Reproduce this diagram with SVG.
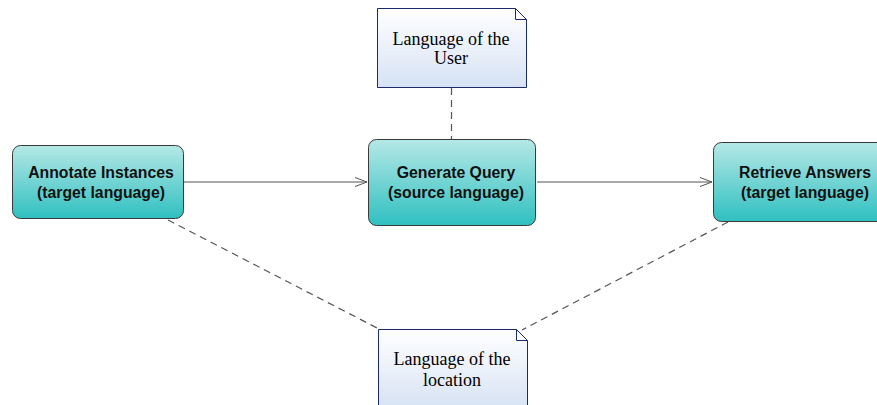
<svg xmlns="http://www.w3.org/2000/svg" width="877" height="405" viewBox="0 0 877 405">
<defs>
<linearGradient id="gTeal" x1="0" y1="0" x2="0" y2="1">
<stop offset="0" stop-color="#b5e8e6"/>
<stop offset="1" stop-color="#2fc0c0"/>
</linearGradient>
<linearGradient id="gNote" x1="0" y1="0" x2="0" y2="1">
<stop offset="0" stop-color="#ffffff"/>
<stop offset="1" stop-color="#d6e2f4"/>
</linearGradient>
<marker id="arr" viewBox="0 0 12 10" refX="12" refY="5" markerWidth="12" markerHeight="10" markerUnits="userSpaceOnUse" orient="auto">
<path d="M0,0.5 L12,5 L0,9.5" fill="none" stroke="#555" stroke-width="1"/>
</marker>
<style>
.node rect{fill:url(#gTeal);stroke:#3a3a3a;stroke-width:1}
.node text{font-family:"Liberation Sans",Arial,sans-serif;font-weight:bold;font-size:15.8px;fill:#111;text-anchor:middle}
.note path{fill:url(#gNote);stroke:#1c2a6b;stroke-width:1}
.note text{font-family:"Liberation Serif","Times New Roman",serif;font-size:18px;fill:#000;text-anchor:middle}
.conn{stroke:#555;stroke-width:1.2;fill:none}
.dash{stroke-dasharray:7,5}
</style>
</defs>
<rect width="877" height="405" fill="#ffffff"/>
<g id="connectors">
<line class="conn" x1="184" y1="182" x2="367" y2="182" marker-end="url(#arr)"/>
<line class="conn" x1="537" y1="182" x2="712" y2="182" marker-end="url(#arr)"/>
<line class="conn dash" x1="451.5" y1="88" x2="451.5" y2="139"/>
<line class="conn dash" x1="168" y1="220" x2="379" y2="329"/>
<line class="conn dash" x1="728" y1="222" x2="522" y2="330"/>
</g>
<g id="node-annotate" class="node">
<rect x="12.5" y="145.5" width="171" height="73" rx="8" ry="8"/>
<text x="101" y="178">Annotate Instances</text>
<text x="101" y="198">(target language)</text>
</g>
<g id="node-generate" class="node">
<rect x="368.5" y="139.5" width="167" height="86" rx="8" ry="8"/>
<text x="456" y="178">Generate Query</text>
<text x="456" y="198">(source language)</text>
</g>
<g id="node-retrieve" class="node">
<rect x="713.5" y="142.5" width="180" height="79" rx="8" ry="8"/>
<text x="805" y="178">Retrieve Answers</text>
<text x="805" y="198">(target language)</text>
</g>
<g id="note-user" class="note">
<path d="M377.5,8.5 H515.5 L526.5,19.5 V87.5 H377.5 Z M515.5,8.5 V19.5 H526.5"/>
<text x="451" y="45">Language of the</text>
<text x="451" y="64">User</text>
</g>
<g id="note-location" class="note">
<path d="M378.5,329.5 H516.5 L527.5,340.5 V410 H378.5 Z M516.5,329.5 V340.5 H527.5"/>
<text x="452" y="365">Language of the</text>
<text x="452" y="386">location</text>
</g>
</svg>
